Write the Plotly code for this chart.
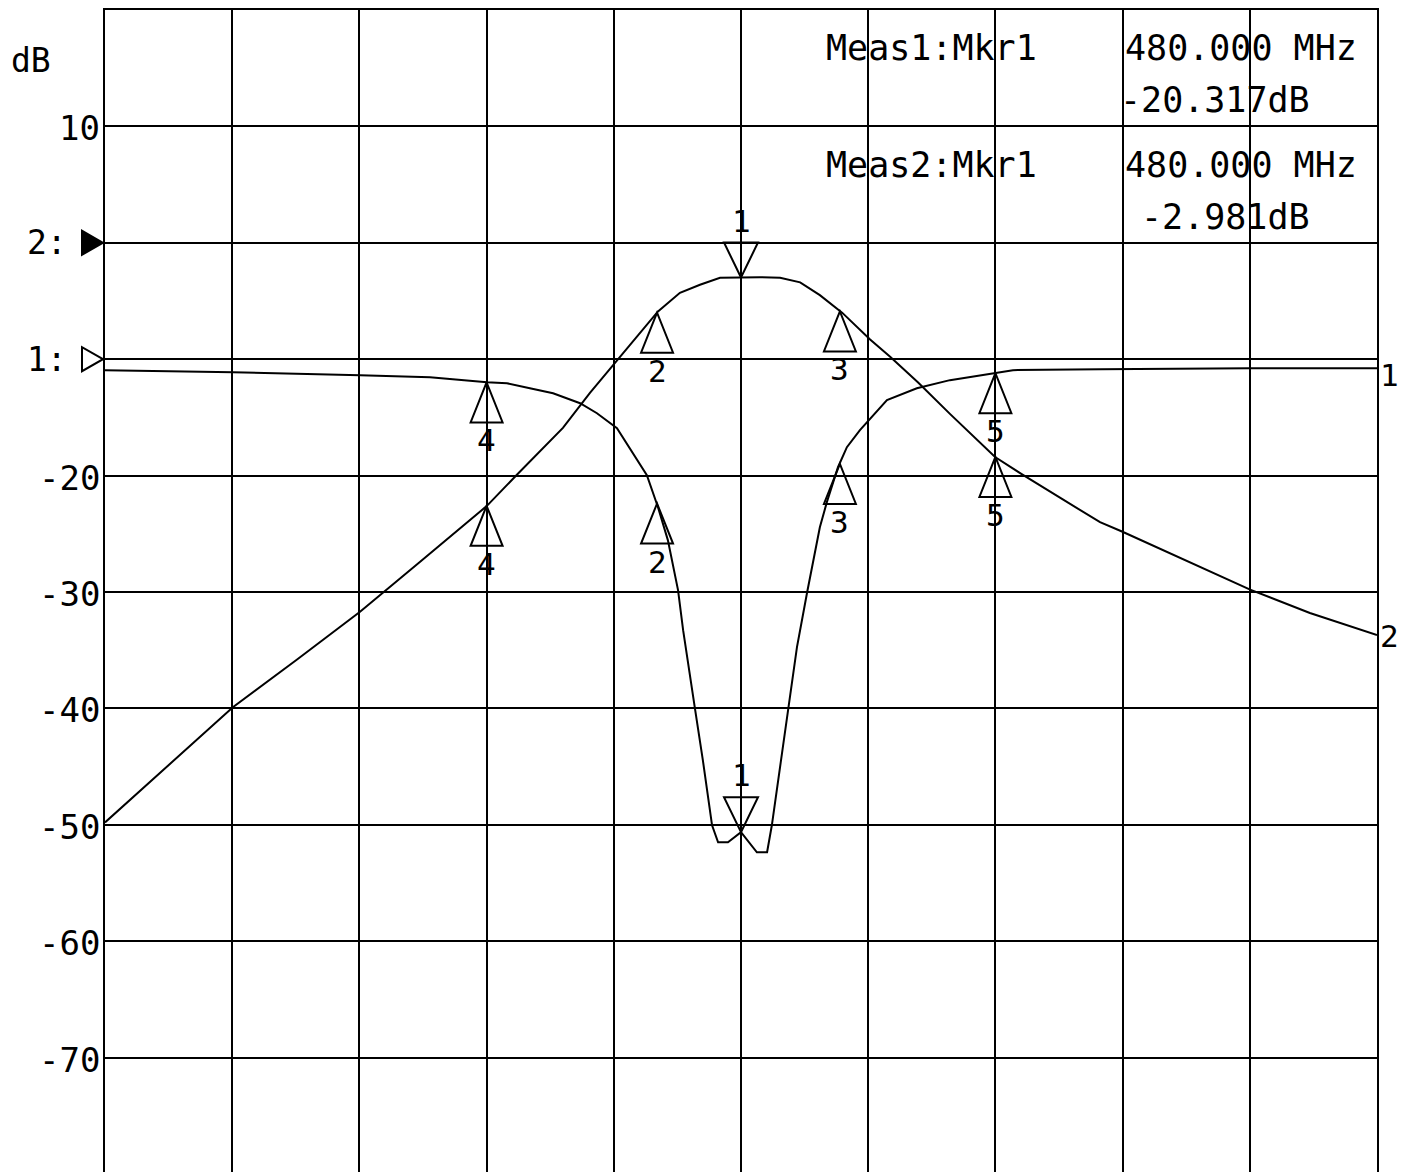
import plotly.graph_objects as go

# S21 (trace 2, 10 dB/div, ref 0 dB on the "2:" line)
S21_FREQ = [280.0, 320.2, 340.4, 360.2, 379.1, 400.1, 409.6, 424.0, 432.5, 441.0,
            448.2, 453.9, 460.8, 467.1, 473.4, 480.0, 486.0, 492.3, 498.6, 504.8,
            511.8, 520.6, 526.9, 535.7, 545.7, 559.9, 568.4, 580.3, 592.9, 599.8,
            619.9, 640.1, 658.9, 680.0]
S21_DB = [-49.8, -39.9, -35.8, -31.7, -27.4, -22.6, -19.9, -15.9, -12.9, -10.1,
          -7.7, -5.9, -4.3, -3.6, -3.0, -2.98, -2.95, -3.0, -3.4, -4.5,
          -6.0, -8.3, -9.8, -12.0, -14.7, -18.4, -19.9, -21.9, -24.0, -24.8,
          -27.3, -29.8, -31.8, -33.7]

# S11 (trace 1, 5 dB/div, ref 0 dB on the "1:" line)
S11_FREQ = [280.0, 320.2, 360.2, 382.2, 400.1, 406.4, 413.6, 420.9, 429.4, 434.7,
            441.0, 450.4, 453.9, 457.0, 460.2, 461.8, 465.5, 468.0, 470.9, 472.8,
            475.9, 480.0, 485.0, 488.2, 489.7, 494.8, 497.6, 500.8, 504.8, 507.0,
            510.5, 513.3, 517.4, 525.9, 535.3, 545.7, 559.9, 565.5, 592.9, 640.1, 680.0]
S11_DB = [-0.47, -0.56, -0.69, -0.77, -0.99, -1.03, -1.25, -1.46, -1.89, -2.32,
          -2.96, -4.98, -6.36, -7.77, -9.92, -11.64, -14.99, -17.22, -20.02, -20.75,
          -20.75, -20.32, -21.18, -21.18, -20.02, -14.99, -12.37, -10.01, -7.22, -6.14,
          -4.64, -3.78, -3.05, -1.76, -1.25, -0.90, -0.60, -0.47, -0.43, -0.39, -0.39]

MKR_LABELS = ['1', '2', '3', '4', '5']
MKR_FREQ = [480.0, 453.6, 511.1, 400.0, 560.0]
MKR_S21 = [-2.981, -6.0, -5.9, -22.6, -18.4]
MKR_S11 = [-20.317, -6.2, -4.5, -1.0, -0.6]

Y_TICKS = [10, -20, -30, -40, -50, -60, -70]

# page body has an 8px margin, so the figure is sized to fit the window
OFF = 8
W, H = 1400, 1164
L, R, T, B = 97, 31, 2, 0
PW, PH = W - L - R, H - T - B
DIVS = PH / 116.4
FONT = 'DejaVu Sans Mono'


def px(x):
    return (x - OFF - L) / PW


def py(y):
    return 1 - (y - OFF - T) / PH


def txt(size):
    return dict(family=FONT, size=size, color='black')


fig = go.Figure()
fig.add_trace(go.Scatter(x=S21_FREQ, y=S21_DB, mode='lines', yaxis='y',
                         line=dict(color='black', width=2), showlegend=False))
fig.add_trace(go.Scatter(x=S11_FREQ, y=S11_DB, mode='lines', yaxis='y2',
                         line=dict(color='black', width=2), showlegend=False))

shapes = []
ann = []

down_tri = 'M 0 0 L -17 35 L 17 35 Z'
up_tri = 'M 0 0 L -16 -40 L 16 -40 Z'
for yref, vals in (('y', MKR_S21), ('y2', MKR_S11)):
    for i, (lab, f, v) in enumerate(zip(MKR_LABELS, MKR_FREQ, vals)):
        first = i == 0
        shapes.append(dict(type='path', xref='x', yref=yref,
                           xsizemode='pixel', ysizemode='pixel',
                           xanchor=f, yanchor=v,
                           path=down_tri if first else up_tri,
                           line=dict(color='black', width=2),
                           fillcolor='rgba(0,0,0,0)'))
        ann.append(dict(x=f, y=v, xref='x', yref=yref, text=lab, showarrow=False,
                        xanchor='center', yanchor='middle',
                        yshift=57 if first else -58, font=txt(31)))

# reference level pointers
shapes.append(dict(type='path', xref='paper', yref='y', xsizemode='pixel', ysizemode='pixel',
                   xanchor=0, yanchor=0, path='M -2 0 L -23 12 L -23 -12 Z',
                   line=dict(color='black', width=2), fillcolor='black'))
shapes.append(dict(type='path', xref='paper', yref='y2', xsizemode='pixel', ysizemode='pixel',
                   xanchor=0, yanchor=0, path='M -2 0 L -23 12 L -23 -12 Z',
                   line=dict(color='black', width=2), fillcolor='rgba(0,0,0,0)'))
ann.append(dict(x=0, y=0, xref='paper', yref='y', text='2:', showarrow=False,
                xanchor='right', yanchor='middle', xshift=-36, font=txt(33)))
ann.append(dict(x=0, y=0, xref='paper', yref='y2', text='1:', showarrow=False,
                xanchor='right', yanchor='middle', xshift=-36, font=txt(33)))

for v in Y_TICKS:
    ann.append(dict(x=0, y=v, xref='paper', yref='y', text=str(v), showarrow=False,
                    xanchor='right', yanchor='middle', xshift=-3, yshift=-2, font=txt(34)))

ann.append(dict(x=px(9), y=py(60), xref='paper', yref='paper', text='dB', showarrow=False,
                xanchor='left', yanchor='middle', font=txt(33)))

# trace end labels
ann.append(dict(x=S11_FREQ[-1], y=S11_DB[-1], xref='x', yref='y2', text='1', showarrow=False,
                xanchor='left', yanchor='middle', xshift=1, yshift=-7, font=txt(31)))
ann.append(dict(x=S21_FREQ[-1], y=S21_DB[-1], xref='x', yref='y', text='2', showarrow=False,
                xanchor='left', yanchor='middle', xshift=1, yshift=-1, font=txt(31)))

# marker readouts
readout = [('Meas1:Mkr1', MKR_FREQ[0], MKR_S11[0], 48),
           ('Meas2:Mkr1', MKR_FREQ[0], MKR_S21[0], 165)]
for name, f, v, y0 in readout:
    ann.append(dict(x=px(824), y=py(y0), xref='paper', yref='paper', text=name, showarrow=False,
                    xanchor='left', yanchor='middle', font=txt(35)))
    ann.append(dict(x=px(1359), y=py(y0), xref='paper', yref='paper', text=f'{f:.3f} MHz',
                    showarrow=False, xanchor='right', yanchor='middle', font=txt(35)))
    ann.append(dict(x=px(1312), y=py(y0 + 52), xref='paper', yref='paper', text=f'{v:.3f}dB',
                    showarrow=False, xanchor='right', yanchor='middle', font=txt(35)))

axis_common = dict(showgrid=True, gridcolor='black', gridwidth=2, showticklabels=False,
                   zeroline=False, showline=True, mirror=True, linecolor='black', linewidth=2,
                   ticks='')

fig.update_layout(
    width=W, height=H,
    margin=dict(l=L, r=R, t=T, b=B),
    paper_bgcolor='white', plot_bgcolor='white',
    xaxis=dict(range=[280, 680], tick0=280, dtick=40, **axis_common),
    yaxis=dict(range=[20 - 10 * DIVS, 20], tick0=0, dtick=10, **axis_common),
    yaxis2=dict(range=[15 - 5 * DIVS, 15], overlaying='y', visible=False),
    shapes=shapes,
    annotations=ann,
)

fig.write_html("out.html")
